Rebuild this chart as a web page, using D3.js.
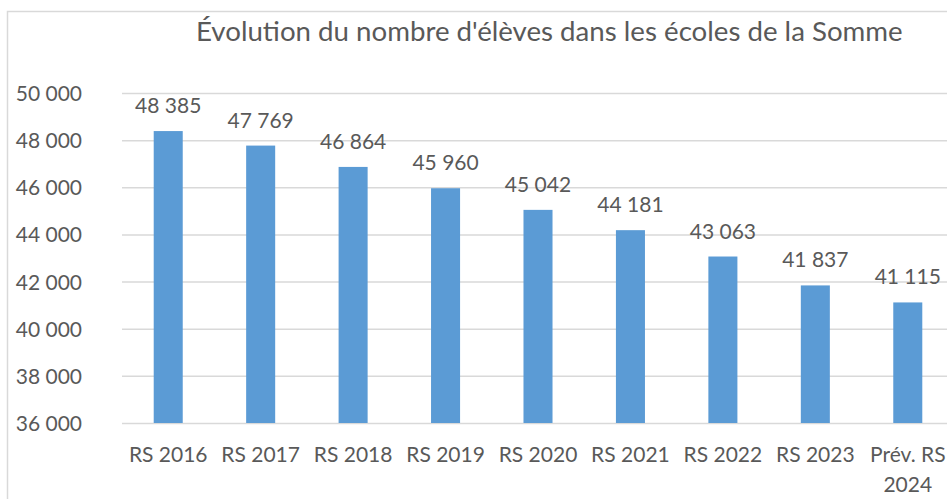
<!DOCTYPE html>
<html>
<head>
<meta charset="utf-8">
<script src="https://cdn.jsdelivr.net/npm/d3@7"></script>
<style>
html, body { margin: 0; padding: 0; background: #fff; }
svg { display: block; }
</style>
</head>
<body>
<svg id="chart" width="947" height="499"></svg>
<script>
const title = "Évolution du nombre d'élèves dans les écoles de la Somme";
const categories = ["RS 2016", "RS 2017", "RS 2018", "RS 2019", "RS 2020", "RS 2021", "RS 2022", "RS 2023", "Prév. RS 2024"];
const values = [48385, 47769, 46864, 45960, 45042, 44181, 43063, 41837, 41115];
const yTicks = [36000, 38000, 40000, 42000, 44000, 46000, 48000, 50000];

const svg = d3.select("#chart");
const W = 947, H = 499;
const plot = { left: 122, right: 954, top: 93, bottom: 423 };
const textColor = "#595959";
const gridColor = "#d9d9d9";
const barColor = "#5b9bd5";
const font = "Lato, 'Open Sans', sans-serif";

const fmt = v => d3.format(",")(v).replace(/,/g, " ");

const x = d3.scaleBand().domain(categories).range([plot.left, plot.right]).paddingInner(0.686).paddingOuter(0.343);
const y = d3.scaleLinear().domain([36000, 50000]).range([plot.bottom, plot.top]);

// chart border (partially visible)
svg.append("path")
  .attr("d", `M7.5,${H} L7.5,11.5 L${W},11.5`)
  .attr("fill", "none").attr("stroke", gridColor).attr("stroke-width", 1.5);

// title
const t = svg.append("text")
  .attr("x", 196).attr("y", 40.5)
  .attr("fill", textColor).attr("font-family", font).attr("font-size", 24)
  .text(title);
const tw = t.node().getComputedTextLength();
t.attr("font-size", 24 * 707 / tw);

// y axis (gridlines + labels)
const yAxis = d3.axisLeft(y).tickValues(yTicks).tickFormat(fmt).tickSize(-(plot.right - plot.left)).tickPadding(40);
const gy = svg.append("g").attr("transform", `translate(${plot.left},0)`).call(yAxis);
gy.select(".domain").remove();
gy.selectAll(".tick line").attr("stroke", gridColor).attr("stroke-width", 1.5);
gy.selectAll(".tick text").attr("fill", textColor).attr("font-family", font).attr("font-size", 21).attr("dy", "0.36em");

// bars
svg.append("g").selectAll("rect").data(values).join("rect")
  .attr("x", (d, i) => x(categories[i]))
  .attr("width", x.bandwidth())
  .attr("y", d => y(d))
  .attr("height", d => y(36000) - y(d))
  .attr("fill", barColor);

// data labels
svg.append("g").selectAll("text").data(values).join("text")
  .attr("x", (d, i) => x(categories[i]) + x.bandwidth() / 2)
  .attr("y", d => y(d) - 18)
  .attr("text-anchor", "middle")
  .attr("fill", textColor).attr("font-family", font).attr("font-size", 21)
  .text(d => fmt(d));

// x axis labels
const xAxis = d3.axisBottom(x).tickSize(0).tickPadding(0);
const gx = svg.append("g").attr("transform", `translate(0,${plot.bottom})`).call(xAxis);
gx.select(".domain").remove();
gx.selectAll(".tick text").each(function(d) {
  const el = d3.select(this);
  el.text(null).attr("y", 0).attr("dy", null)
    .attr("fill", textColor).attr("font-family", font).attr("font-size", 21);
  const lines = d === "Prév. RS 2024" ? ["Prév. RS", "2024"] : [d];
  lines.forEach((ln, i) => {
    el.append("tspan").attr("x", 0).attr("y", 39 + i * 29.5).text(ln);
  });
});
</script>
</body>
</html>
